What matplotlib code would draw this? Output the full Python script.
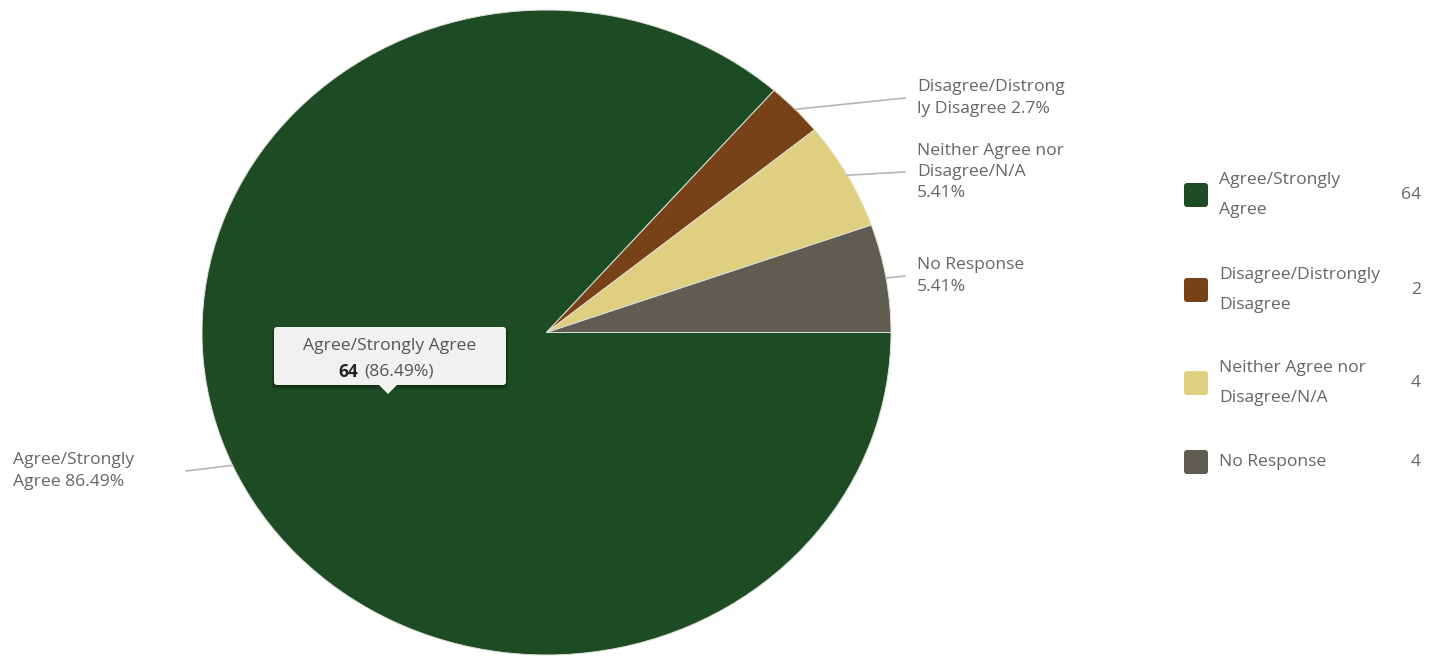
import matplotlib.pyplot as plt
import numpy as np
from matplotlib.patches import FancyBboxPatch, Polygon

plt.rcParams['font.family'] = ['Open Sans', 'DejaVu Sans']

# data
categories = ['Agree/Strongly Agree', 'Disagree/Distrongly Disagree',
              'Neither Agree nor Disagree/N/A', 'No Response']
counts = [64, 2, 4, 4]
percents = [86.49, 2.7, 5.41, 5.41]
colors = ['#1d4b23', '#784219', '#ded080', '#5f5c52']
pie_labels = ['Agree/Strongly\nAgree 86.49%', 'Disagree/Distrong\nly Disagree 2.7%',
              'Neither Agree nor\nDisagree/N/A\n5.41%', 'No Response\n5.41%']
legend_labels = ['Agree/Strongly\nAgree', 'Disagree/Distrongly\nDisagree',
                 'Neither Agree nor\nDisagree/N/A', 'No Response']

W, H = 1445, 657
txt_col = '#666666'
fs = 12.6

fig = plt.figure(figsize=(W / 100, H / 100), dpi=100)

# pie is slightly wider than tall in the reference
cx, cy, rx, ry = 546.5, 332.5, 344.5, 322.5
pax = fig.add_axes([(cx - rx) / W, (H - cy - ry) / H, 2 * rx / W, 2 * ry / H])
pax.pie(counts, colors=colors, startangle=0, counterclock=False,
        wedgeprops=dict(edgecolor='#e0e0d8', linewidth=0.7))
pax.set_aspect('auto')
pax.set_xlim(-1, 1)
pax.set_ylim(-1, 1)
pax.axis('off')

# overlay in pixel coordinates for labels, legend, tooltip
ax = fig.add_axes([0, 0, 1, 1], zorder=5)
ax.set_xlim(0, W)
ax.set_ylim(H, 0)
ax.axis('off')
ax.patch.set_alpha(0)

# leader lines + outside labels
label_pos = [(13, 471, 'left', 186), (917, 98, 'left', 905),
             (917, 172, 'left', 905), (917, 276, 'left', 905)]
frac = np.array(counts) / sum(counts) * 360
ends = -np.cumsum(frac)
starts = ends + frac
mids = np.radians((starts + ends) / 2)
for i, lab in enumerate(pie_labels):
    px = cx + rx * np.cos(mids[i])
    py = cy - ry * np.sin(mids[i])
    tx, ty, ha, lx = label_pos[i]
    ax.plot([px, lx], [py, ty], color='#b5b5b5', lw=1.2)
    ax.text(tx, ty, lab, ha=ha, va='center', fontsize=fs, color=txt_col,
            linespacing=1.42)

# legend
leg_y = [195, 290, 383, 462]
for i in range(len(categories)):
    ax.add_patch(FancyBboxPatch((1184, leg_y[i] - 12), 24, 24,
                                boxstyle='round,pad=0,rounding_size=3',
                                fc=colors[i], ec='none'))
    ax.text(1219, leg_y[i], legend_labels[i], ha='left', va='center',
            fontsize=fs, color=txt_col, linespacing=2.1)
    ax.text(1421, leg_y[i], str(counts[i]), ha='right', va='center',
            fontsize=fs, color=txt_col)

# tooltip
for off, a in [(5, 0.10), (3, 0.15), (1.5, 0.2)]:
    ax.add_patch(FancyBboxPatch((274 - off / 2, 327 + off / 2), 232 + off, 58 + off / 2,
                                boxstyle='round,pad=0,rounding_size=3',
                                fc='black', ec='none', alpha=a))
ax.add_patch(FancyBboxPatch((274, 327), 232, 58,
                            boxstyle='round,pad=0,rounding_size=3',
                            fc='#f1f1ef', ec='none'))
ax.add_patch(Polygon([(378, 384), (398, 384), (388, 394)], closed=True,
                     fc='#f1f1ef', ec='none'))
ax.text(390, 346, categories[0], ha='center', va='center', fontsize=fs,
        color='#555555')
ax.text(358, 372, str(counts[0]), ha='right', va='center', fontsize=fs,
        color='#222222', fontweight='bold')
ax.text(364, 372, '(%.2f%%)' % percents[0], ha='left', va='center',
        fontsize=fs, color='#555555')

fig.savefig('out.png', dpi=100, facecolor='white')
